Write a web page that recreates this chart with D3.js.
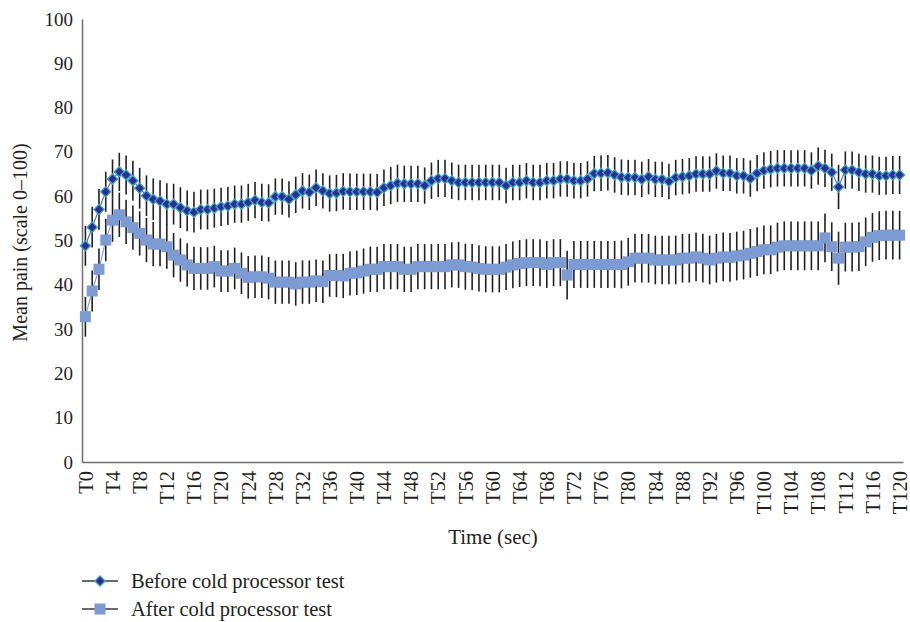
<!DOCTYPE html>
<html>
<head>
<meta charset="utf-8">
<script src="https://cdn.jsdelivr.net/npm/d3@7"></script>
<style>
  body { margin: 0; background: #fff; }
  svg text { font-family: "Liberation Serif", "DejaVu Serif", serif; fill: #231f20; }
</style>
</head>
<body>
<svg width="910" height="622"></svg>
<script>
// time points T0..T120
var labels = d3.range(121).map(function(i) { return "T" + i; });
var tickLabels = labels.filter(function(d, i) { return i % 4 === 0; });
var yTicks = [0, 10, 20, 30, 40, 50, 60, 70, 80, 90, 100];

// mean pain before cold processor test
var before = [
  48.8, 53.0, 57.0, 61.0, 63.9, 65.5, 64.8, 63.5, 61.8, 60.1,
  59.3, 58.9, 58.2, 58.2, 57.4, 56.7, 56.4, 57.0, 57.0, 57.3,
  57.6, 57.8, 58.2, 58.2, 58.6, 59.1, 58.6, 58.5, 59.9, 59.9,
  59.3, 60.3, 61.2, 60.9, 61.9, 61.2, 60.6, 60.7, 61.1, 61.0,
  61.0, 61.0, 61.0, 60.9, 61.9, 62.4, 62.9, 62.8, 62.8, 62.8,
  62.4, 63.5, 64.0, 64.0, 63.5, 63.1, 63.1, 63.1, 63.1, 63.1,
  63.1, 63.1, 62.4, 63.1, 63.1, 63.5, 63.1, 63.1, 63.5, 63.5,
  63.9, 63.9, 63.5, 63.5, 63.9, 65.1, 65.2, 65.3, 64.8, 64.3,
  64.2, 64.2, 63.8, 64.4, 63.8, 63.8, 63.3, 64.2, 64.4, 64.6,
  65.0, 65.0, 65.0, 65.7, 65.2, 65.2, 64.6, 64.6, 64.0, 65.2,
  65.8, 66.1, 66.3, 66.3, 66.3, 66.3, 66.3, 65.8, 66.8, 66.3,
  65.4, 62.1, 65.9, 65.9, 65.4, 65.0, 65.0, 64.6, 64.6, 64.8, 64.8
];
var beforeErr = [
  4.5, 4.6, 4.6, 4.5, 4.4, 4.3, 4.4, 4.5, 4.6, 4.6,
  4.7, 4.7, 4.7, 4.6, 4.6, 4.6, 4.6, 4.5, 4.5, 4.4,
  4.3, 4.3, 4.2, 4.2, 4.2, 4.1, 4.2, 4.2, 4.1, 4.1,
  4.1, 4.1, 4.0, 4.0, 4.1, 4.0, 4.1, 4.1, 4.1, 4.1,
  4.1, 4.1, 4.1, 4.1, 4.1, 4.2, 4.2, 4.1, 4.1, 4.1,
  4.1, 4.1, 4.2, 4.2, 4.1, 4.0, 4.0, 4.0, 4.0, 4.0,
  4.0, 4.0, 4.0, 4.0, 4.0, 4.0, 4.0, 4.0, 4.0, 4.0,
  4.0, 4.0, 4.0, 4.0, 4.0, 4.0, 4.0, 4.0, 4.0, 4.0,
  4.0, 4.0, 4.0, 4.0, 4.0, 4.0, 4.0, 4.0, 4.0, 4.0,
  4.0, 4.0, 4.0, 4.0, 4.0, 4.0, 4.0, 4.0, 4.1, 4.1,
  4.1, 4.1, 4.1, 4.1, 4.1, 4.1, 4.1, 4.1, 4.2, 4.2,
  4.2, 5.0, 4.2, 4.2, 4.2, 4.2, 4.2, 4.3, 4.3, 4.3, 4.3
];

// mean pain after cold processor test
var after = [
  32.8, 38.6, 43.5, 50.1, 54.6, 55.8, 54.2, 52.9, 51.6, 50.1,
  49.2, 49.2, 48.6, 46.7, 45.6, 44.5, 43.7, 43.7, 43.7, 44.1,
  43.1, 43.1, 43.7, 42.6, 41.7, 41.8, 41.8, 41.5, 40.6, 40.6,
  40.6, 40.2, 40.6, 40.6, 40.9, 40.7, 42.1, 42.1, 42.0, 42.6,
  42.7, 43.1, 43.5, 43.5, 44.1, 44.1, 44.1, 43.5, 43.5, 44.1,
  44.1, 44.1, 44.1, 44.1, 44.5, 44.5, 44.1, 44.0, 43.7, 43.5,
  43.5, 43.5, 44.0, 44.5, 44.8, 45.0, 45.0, 45.0, 44.6, 45.0,
  45.0, 42.2, 44.6, 44.6, 44.6, 44.6, 44.6, 44.6, 44.6, 44.6,
  45.2, 46.0, 46.0, 46.0, 45.6, 45.6, 45.6, 45.6, 46.0, 46.0,
  46.3, 46.0, 45.6, 46.0, 46.3, 46.2, 46.5, 46.7, 47.1, 47.5,
  47.9, 47.9, 48.5, 48.8, 48.8, 48.8, 48.8, 48.8, 48.8, 50.6,
  48.6, 46.0, 48.5, 48.5, 48.6, 49.7, 50.7, 51.1, 51.2, 51.2, 51.2
];
var afterErr = [
  4.5, 4.6, 4.7, 4.8, 4.9, 5.0, 5.0, 5.0, 5.0, 5.0,
  5.0, 5.0, 5.0, 5.0, 4.9, 4.9, 4.9, 4.8, 4.8, 4.7,
  4.7, 4.7, 4.7, 4.7, 4.8, 4.8, 4.8, 4.8, 4.9, 4.9,
  4.9, 4.9, 4.9, 4.9, 4.8, 4.8, 4.8, 4.9, 5.0, 5.0,
  5.0, 5.1, 5.1, 5.1, 5.1, 5.1, 5.1, 5.1, 5.1, 5.1,
  5.1, 5.1, 5.1, 5.1, 5.1, 5.2, 5.2, 5.2, 5.2, 5.2,
  5.2, 5.2, 5.2, 5.3, 5.3, 5.3, 5.3, 5.3, 5.3, 5.3,
  5.3, 5.5, 5.3, 5.3, 5.3, 5.3, 5.3, 5.3, 5.3, 5.4,
  5.4, 5.5, 5.5, 5.5, 5.5, 5.5, 5.5, 5.5, 5.5, 5.5,
  5.5, 5.5, 5.5, 5.5, 5.5, 5.5, 5.5, 5.5, 5.5, 5.5,
  5.5, 5.5, 5.5, 5.5, 5.5, 5.5, 5.5, 5.5, 5.5, 5.5,
  5.5, 6.0, 5.5, 5.5, 5.5, 5.5, 5.5, 5.5, 5.5, 5.5, 5.5
];

var svg = d3.select("svg");
var margin = { left: 82, right: 7, top: 19, bottom: 160 };
var width = 910, height = 622;

var x = d3.scalePoint()
    .domain(labels)
    .range([margin.left, width - margin.right])
    .padding(0.5);

var y = d3.scaleLinear()
    .domain([0, 100])
    .range([height - margin.bottom, margin.top]);

// axes
var yAxis = svg.append("g")
    .attr("transform", "translate(" + margin.left + ",0)")
    .call(d3.axisLeft(y).tickValues(yTicks).tickSize(0).tickPadding(9));
yAxis.select(".domain").attr("stroke", "#6d6e71").attr("stroke-width", 1.5);
yAxis.selectAll("text").style("font-size", "19px").attr("fill", "#231f20");

var xAxis = svg.append("g")
    .attr("transform", "translate(0," + y(0) + ")")
    .call(d3.axisBottom(x).tickValues(tickLabels).tickSize(0));
xAxis.select(".domain").attr("stroke", "#6d6e71").attr("stroke-width", 1.5);
xAxis.selectAll("text")
    .style("font-size", "20.5px")
    .attr("fill", "#231f20")
    .attr("y", 0)
    .attr("x", -9)
    .attr("dy", "0.33em")
    .attr("transform", "rotate(-90)")
    .style("text-anchor", "end");

// axis titles
svg.append("text")
    .attr("transform", "translate(27," + (y(50) + 2) + ") rotate(-90)")
    .attr("text-anchor", "middle")
    .style("font-size", "20px")
    .text("Mean pain (scale 0\u2013100)");

svg.append("text")
    .attr("x", 493)
    .attr("y", 544)
    .attr("text-anchor", "middle")
    .style("font-size", "21px")
    .text("Time (sec)");

var series = [
    { name: "Before cold processor test", values: before, err: beforeErr, line: "#4f7fc4", kind: "diamond" },
    { name: "After cold processor test", values: after, err: afterErr, line: "#86a3d6", kind: "square" }
];

// error bars
series.forEach(function(s) {
    svg.append("g")
        .selectAll("line")
        .data(s.values)
        .enter().append("line")
            .attr("x1", function(d, i) { return x(labels[i]); })
            .attr("x2", function(d, i) { return x(labels[i]); })
            .attr("y1", function(d, i) { return y(d + s.err[i]); })
            .attr("y2", function(d, i) { return y(d - s.err[i]); })
            .attr("stroke", "#231f20")
            .attr("stroke-width", 1.6);
});

var line = d3.line()
    .x(function(d, i) { return x(labels[i]); })
    .y(function(d) { return y(d); });

var diamond = d3.symbol().type(d3.symbolSquare).size(52);
var square = d3.symbol().type(d3.symbolSquare).size(121);

function drawMarkers(g, s, cx, cy) {
    if (s.kind === "diamond") {
        g.append("path")
            .attr("d", diamond())
            .attr("transform", "translate(" + cx + "," + cy + ") rotate(45)")
            .attr("fill", "#2b2f8f")
            .attr("stroke", "#3fa2c8")
            .attr("stroke-width", 1.3);
    } else {
        g.append("path")
            .attr("d", square())
            .attr("transform", "translate(" + cx + "," + cy + ")")
            .attr("fill", "#7b9bd2");
    }
}

// lines and markers
series.slice().reverse().forEach(function(s) {
    svg.append("path")
        .datum(s.values)
        .attr("fill", "none")
        .attr("stroke", s.line)
        .attr("stroke-width", 1.2)
        .attr("d", line);

    var g = svg.append("g");
    s.values.forEach(function(d, i) {
        drawMarkers(g, s, x(labels[i]), y(d));
    });
});

// legend
var legend = svg.append("g");
series.forEach(function(s, i) {
    var ly = 581 + i * 28;
    legend.append("line")
        .attr("x1", 82).attr("x2", 118)
        .attr("y1", ly).attr("y2", ly)
        .attr("stroke", "#3a3a3a")
        .attr("stroke-width", 1.3);
    drawMarkers(legend, s, 100, ly);
    legend.append("text")
        .attr("x", 131)
        .attr("y", ly + 7)
        .style("font-size", "20.5px")
        .text(s.name);
});
</script>
</body>
</html>
